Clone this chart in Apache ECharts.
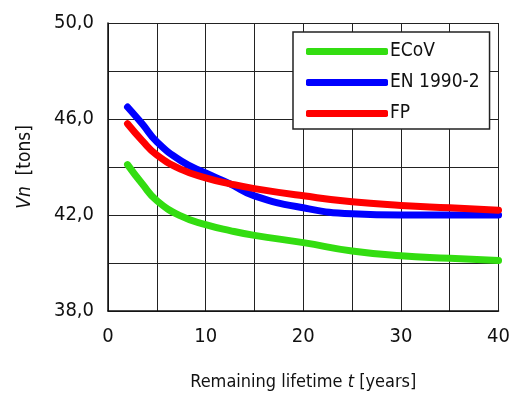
<!DOCTYPE html>
<html>
<head>
<meta charset="utf-8">
<script src="https://cdn.jsdelivr.net/npm/echarts@6/dist/echarts.min.js"></script>
<style>
  html, body { margin: 0; padding: 0; background: #fff; }
  #chart { width: 513px; height: 396px; }
</style>
</head>
<body>
<div id="chart"></div>
<script>
// remaining lifetime t [years]
const years = [2, 3.5, 5, 7.5, 10, 12.5, 15, 20, 25, 30, 35, 40];
// Vn [tons]
const ecov = [44.1, 43.3, 42.6, 41.95, 41.6, 41.35, 41.15, 40.85, 40.5, 40.3, 40.2, 40.1];
const en1990 = [46.5, 45.8, 45.05, 44.25, 43.75, 43.3, 42.8, 42.3, 42.05, 42.0, 42.0, 42.0];
const fp = [45.8, 45.1, 44.5, 43.9, 43.55, 43.3, 43.1, 42.8, 42.55, 42.4, 42.3, 42.2];
const seriesNames = ["ECoV", "EN 1990-2", "FP"];
const colors = ["#33dd11", "#0000ff", "#ff0000"];

const font = "'Liberation Sans Narrow', 'Arial Narrow', 'DejaVu Sans Condensed', sans-serif";

const pairs = (ys) => years.map((x, i) => [x, ys[i]]);

const chart = echarts.init(document.getElementById("chart"));

chart.setOption({
  animation: false,
  textStyle: { fontFamily: font },
  grid: { left: 108, right: 13, top: 23, bottom: 78 },
  legend: {
    orient: "vertical",
    left: 293,
    top: 32,
    padding: [10, 10, 6, 13],
    itemGap: 12,
    itemWidth: 82,
    itemHeight: 7,
    icon: "roundRect",
    backgroundColor: "#fff",
    borderColor: "#222",
    borderWidth: 1.5,
    borderRadius: 0,
    textStyle: { fontFamily: font, fontSize: 19, color: "#111", padding: [0, 0, 0, -3] },
    data: seriesNames,
  },
  xAxis: {
    type: "value",
    min: 0,
    max: 40,
    interval: 5,
    name: "Remaining lifetime {i|t} [years]",
    nameLocation: "middle",
    nameGap: 62,
    nameTextStyle: {
      fontFamily: font,
      fontSize: 18,
      color: "#111",
      rich: { i: { fontStyle: "italic", fontFamily: font, fontSize: 18, color: "#111" } },
    },
    axisLine: { lineStyle: { color: "#111", width: 1.5 } },
    axisTick: { show: false },
    axisLabel: {
      margin: 16,
      fontSize: 20,
      color: "#111",
      formatter: (v) => (v % 10 === 0 ? String(v) : ""),
    },
    splitLine: { lineStyle: { color: "#222", width: 1 } },
  },
  yAxis: {
    type: "value",
    min: 38,
    max: 50,
    interval: 2,
    name: "{i|Vn}  [tons]",
    nameLocation: "middle",
    nameGap: 73,
    nameTextStyle: {
      fontFamily: font,
      fontSize: 19,
      color: "#111",
      rich: { i: { fontStyle: "italic", fontFamily: font, fontSize: 19, color: "#111" } },
    },
    axisLine: { show: true, lineStyle: { color: "#111", width: 1.5 } },
    axisTick: { show: false },
    axisLabel: {
      margin: 14,
      fontSize: 20,
      color: "#111",
      formatter: (v) => ((v - 38) % 4 === 0 ? v.toFixed(1).replace(".", ",") : ""),
    },
    splitLine: { lineStyle: { color: "#222", width: 1 } },
  },
  series: [ecov, en1990, fp].map((ys, i) => ({
    name: seriesNames[i],
    type: "line",
    data: pairs(ys),
    smooth: 0.5,
    showSymbol: false,
    color: colors[i],
    lineStyle: { width: 7, color: colors[i], cap: "round", join: "round" },
  })),
});
</script>
</body>
</html>
